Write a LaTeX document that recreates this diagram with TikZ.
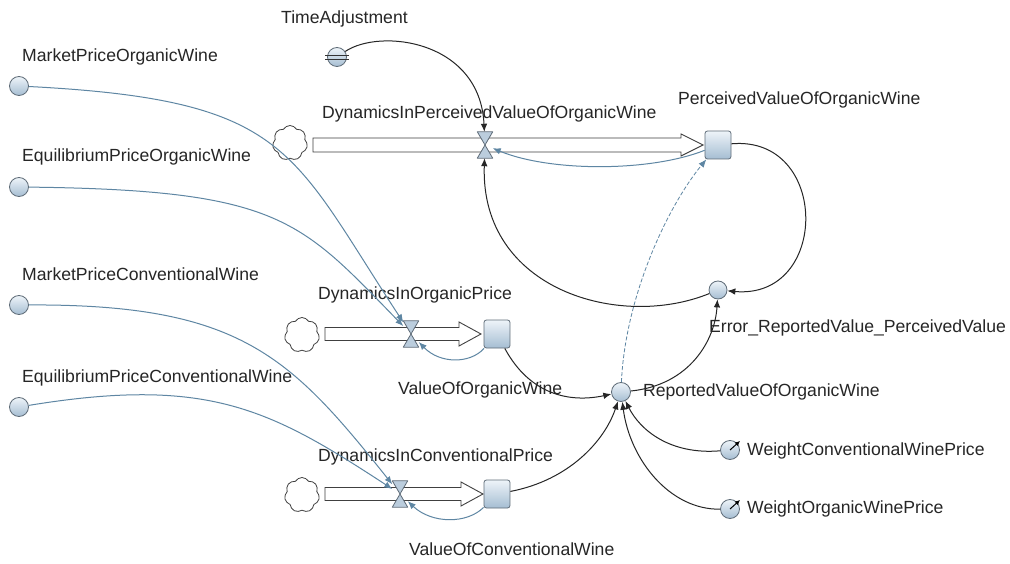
\documentclass[tikz,border=0pt]{standalone}
\usepackage{fontspec}
\setmainfont{Liberation Sans}
\usetikzlibrary{shapes.symbols,arrows.meta}
\definecolor{linkblue}{HTML}{5E86A3}
\definecolor{rim}{HTML}{5F6C78}
\definecolor{shadetop}{HTML}{EEF4F9}
\definecolor{shadebot}{HTML}{A5BDD2}
\tikzset{
  lbl/.style={anchor=base west,inner sep=0pt,font=\fontsize{17.6}{20}\selectfont,text=black!85},
  aux/.style={circle,draw=rim,line width=0.8pt,top color=shadetop,bottom color=shadebot,minimum size=19pt,inner sep=0pt},
  stockbox/.style={rectangle,rounded corners=2.5pt,draw=rim,line width=0.8pt,top color=shadetop,bottom color=shadebot,minimum width=26pt,minimum height=28pt,inner sep=0pt},
  valvebox/.style={rectangle,minimum width=15pt,minimum height=26pt,inner sep=0pt},
  valvefill/.style={fill=shadebot!75,draw=rim,line width=0.8pt,line join=round},
  cloudnode/.style={cloud,cloud puffs=7,cloud puff arc=120,aspect=1,draw=black!75,line width=0.8pt,minimum width=35pt,minimum height=35pt,inner sep=0pt},
  pipe/.style={fill=white,draw=black!75,line width=0.9pt,line join=miter},
  link/.style={draw=black!85,line width=1pt,-{Latex[length=8pt,width=6.5pt]}},
  blink/.style={draw=linkblue,line width=1pt,-{Latex[length=8pt,width=6.5pt]}},
}
\begin{document}
\begin{tikzpicture}[x=1pt,y=-1pt]
\path[use as bounding box,fill=white] (0,0) rectangle (1010,564);

% ---------- pipes (drawn first, under valves) ----------
\draw[pipe] (313,138) -- (681,138) -- (681,134) -- (703,145) -- (681,156) -- (681,152) -- (313,152) -- cycle;
\draw[pipe] (325,327.5) -- (459,327.5) -- (459,322) -- (481,334) -- (459,346) -- (459,340.5) -- (325,340.5) -- cycle;
\draw[pipe] (325,487.5) -- (461,487.5) -- (461,482) -- (483,494) -- (461,506) -- (461,500.5) -- (325,500.5) -- cycle;

% ---------- clouds ----------
\node[cloudnode] (c1) at (290,143) {};
\node[cloudnode] (c2) at (302,335) {};
\node[cloudnode] (c3) at (302,495) {};

% ---------- valves ----------
\node[valvebox] (v1) at (485,145) {};
\filldraw[valvefill] (v1.north west) -- (v1.north east) -- (v1.south west) -- (v1.south east) -- cycle;
\node[valvebox] (v2) at (411,334) {};
\filldraw[valvefill] (v2.north west) -- (v2.north east) -- (v2.south west) -- (v2.south east) -- cycle;
\node[valvebox] (v3) at (400,494) {};
\filldraw[valvefill] (v3.north west) -- (v3.north east) -- (v3.south west) -- (v3.south east) -- cycle;

% ---------- stocks ----------
\node[stockbox] (s1) at (718,145) {};
\node[stockbox] (s2) at (497,334) {};
\node[stockbox] (s3) at (497,494) {};

% ---------- auxiliaries ----------
\node[aux] (mpow) at (19,86) {};
\node[aux] (epow) at (19,187) {};
\node[aux] (mpcw) at (19,305) {};
\node[aux] (epcw) at (19,407) {};
\node[aux] (ta) at (337,57) {};
\draw[draw=black!80,line width=0.8pt] (325,55.5) -- (349,55.5) (325,59) -- (349,59);
\node[aux,minimum size=18pt] (err) at (718,290) {};
\node[aux,minimum size=19pt] (rv) at (621,392) {};
\node[aux,minimum size=19pt] (wc) at (730,450) {};
\node[aux,minimum size=19pt] (wo) at (730,509) {};
\draw[line width=1pt,-{Latex[length=5pt,width=5pt]}] (wc.center) -- (740,441);
\draw[line width=1pt,-{Latex[length=5pt,width=5pt]}] (wo.center) -- (740,500);

% ---------- labels ----------
\node[lbl] (lmpow) at (22,62) {MarketPriceOrganicWine};
\node[lbl] (lepow) at (22,162) {EquilibriumPriceOrganicWine};
\node[lbl] (lmpcw) at (22,280) {MarketPriceConventionalWine};
\node[lbl] (lepcw) at (22,382) {EquilibriumPriceConventionalWine};
\node[lbl] (lta) at (281,24) {TimeAdjustment};
\node[lbl] (lv1) at (322,119) {DynamicsInPerceivedValueOfOrganicWine};
\node[lbl] (ls1) at (678,105) {PerceivedValueOfOrganicWine};
\node[lbl] (lv2) at (318,300) {DynamicsInOrganicPrice};
\node[lbl] (ls2) at (398,394) {ValueOfOrganicWine};
\node[lbl] (lv3) at (318,461) {DynamicsInConventionalPrice};
\node[lbl] (ls3) at (409,555) {ValueOfConventionalWine};
\node[lbl] (lrv) at (643,396) {ReportedValueOfOrganicWine};
\node[lbl] (lerr) at (709,332) {Error\_ReportedValue\_PerceivedValue};
\node[lbl] (lwc) at (747,455) {WeightConventionalWinePrice};
\node[lbl] (lwo) at (747,513) {WeightOrganicWinePrice};

% ---------- blue information links ----------
\draw[blink] (mpow) .. controls (290,100) and (290,150) .. (v2);
\draw[blink] (epow) .. controls (280,190) and (300,220) .. (v2);
\draw[blink] (mpcw) .. controls (240,304) and (290,356) .. (v3);
\draw[blink] (epcw) .. controls (208,376) and (270,409) .. (v3);
\draw[blink] (s1) .. controls (650,172) and (550,172) .. (v1);
\draw[blink] (s2) .. controls (470,364) and (440,364) .. (v2);
\draw[blink] (s3) .. controls (467,524) and (432,524) .. (v3);
\draw[blink,dashed,dash pattern=on 4pt off 2pt,line width=0.8pt] (rv) .. controls (625,300) and (665,210) .. (s1);

% ---------- black links ----------
\draw[link] (ta) .. controls (380,28) and (480,40) .. (v1);
\draw[link] (s1) .. controls (830,135) and (830,300) .. (err);
\draw[link] (err) .. controls (620,330) and (480,290) .. (v1);
\draw[link] (rv) .. controls (690,385) and (715,340) .. (err);
\draw[link] (s2) .. controls (530,395) and (570,403) .. (rv);
\draw[link] (s3) .. controls (570,480) and (605,440) .. (rv);
\draw[link] (wc) .. controls (670,455) and (640,430) .. (rv);
\draw[link] (wo) .. controls (670,510) and (630,460) .. (rv);
\end{tikzpicture}
\end{document}
